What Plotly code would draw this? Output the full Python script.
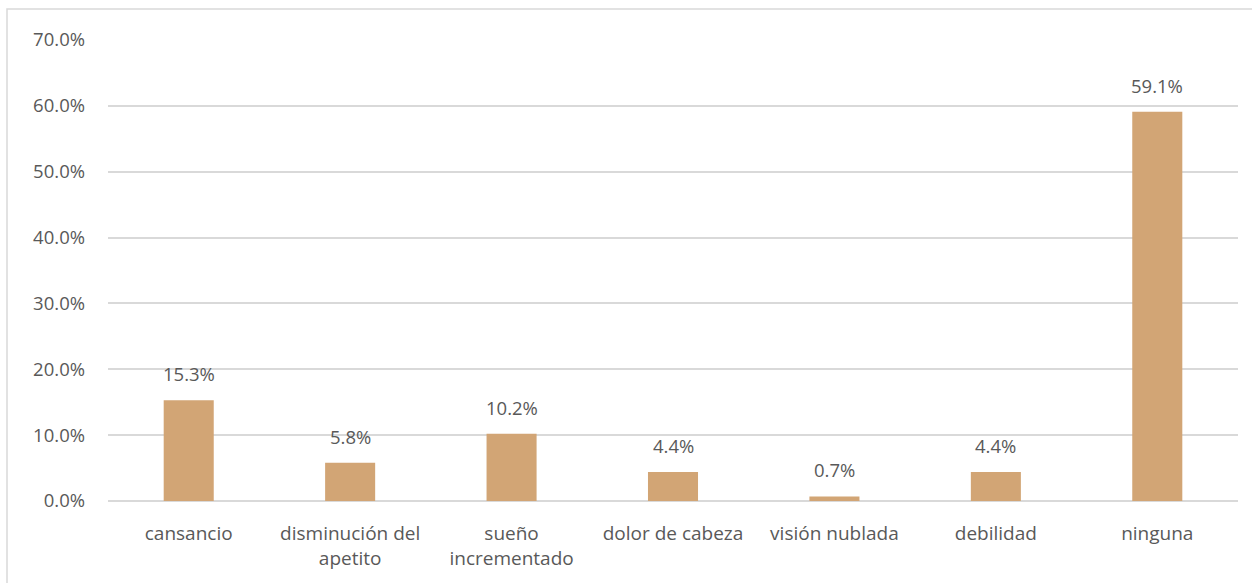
import plotly.graph_objects as go

categorias = ["cansancio", "disminución del<br>apetito", "sueño<br>incrementado",
              "dolor de cabeza", "visión nublada", "debilidad", "ninguna"]
porcentajes = [15.3, 5.8, 10.2, 4.4, 0.7, 4.4, 59.1]
etiquetas = ["15.3%", "5.8%", "10.2%", "4.4%", "0.7%", "4.4%", "59.1%"]
ticks_y = [0, 10, 20, 30, 40, 50, 60, 70]
ticks_txt = ["0.0%", "10.0%", "20.0%", "30.0%", "40.0%", "50.0%", "60.0%", "70.0%"]

COLOR_BARRA = "#D2A575"
COLOR_TEXTO = "#595959"
FUENTE = "Open Sans, Liberation Sans, sans-serif"

W, H = 1252, 583
L, R, T, B = 108, 14, 40, 82

fig = go.Figure()
fig.add_trace(go.Bar(
    x=categorias, y=porcentajes,
    marker=dict(color=COLOR_BARRA, line=dict(width=0)),
    hoverinfo="skip",
))

for c, v, t in zip(categorias, porcentajes, etiquetas):
    fig.add_annotation(
        x=c, y=v, text=t, showarrow=False, yanchor="bottom", yshift=12,
        font=dict(size=18.5, color=COLOR_TEXTO, family=FUENTE),
    )

pw, ph = W - L - R, H - T - B
# borde del área del gráfico (estilo Excel)
fig.add_shape(
    type="rect", xref="paper", yref="paper",
    x0=(7 - L) / pw, x1=(W + 20 - L) / pw,
    y0=(H - B - (H + 20)) / ph, y1=(H - B - 9) / ph,
    line=dict(color="#D9D9D9", width=1.5), fillcolor="rgba(0,0,0,0)", layer="below",
)

fig.update_layout(
    width=W, height=H,
    margin=dict(l=L, r=R, t=T, b=B, pad=0),
    paper_bgcolor="white", plot_bgcolor="white",
    bargap=0.69,
    showlegend=False,
    font=dict(family=FUENTE, size=18.5, color=COLOR_TEXTO),
    xaxis=dict(
        showgrid=False, showline=False, zeroline=False, ticks="",
        ticklabelstandoff=19,
        tickfont=dict(size=19, color=COLOR_TEXTO), fixedrange=True,
    ),
    yaxis=dict(
        range=[0, 70], tickvals=ticks_y, ticktext=ticks_txt,
        showgrid=True, gridcolor="#D9D9D9", gridwidth=1.5,
        zeroline=True, zerolinecolor="#D9D9D9", zerolinewidth=1.5,
        showline=False, ticks="", ticklabelstandoff=22,
        tickfont=dict(size=18.5, color=COLOR_TEXTO), fixedrange=True,
    ),
)

fig.write_html("out.html", config={"displayModeBar": False},
               post_script="document.body.style.margin='0';document.body.style.overflow='hidden';")
